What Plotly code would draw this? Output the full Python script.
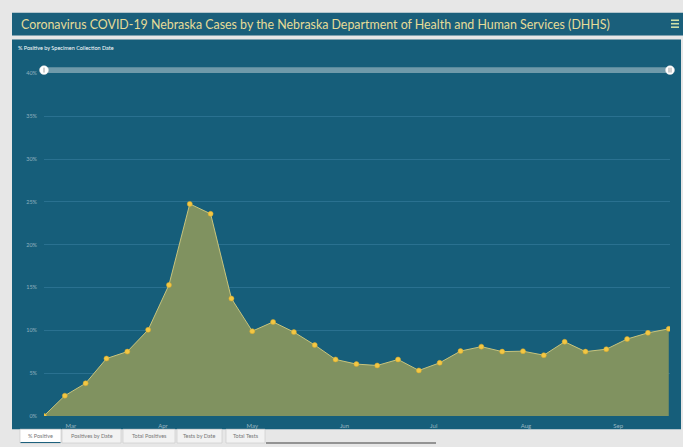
import plotly.graph_objects as go
import pandas as pd

# Data: weekly % positive by specimen collection date
start_date = "2020-02-21"
pct_positive = [0.0, 2.36, 3.81, 6.70, 7.51, 10.05, 15.30, 24.77, 23.61, 13.71,
                9.90, 10.98, 9.79, 8.28, 6.59, 6.05, 5.89, 6.59, 5.31, 6.20,
                7.57, 8.09, 7.51, 7.56, 7.09, 8.66, 7.51, 7.79, 8.98, 9.70, 10.17]
dates = pd.date_range(start_date, periods=len(pct_positive), freq="7D")

y_ticks = [0, 5, 10, 15, 20, 25, 30, 35, 40]
y_tick_labels = ["0%", "5%", "10%", "15%", "20%", "25%", "30%", "35%", "40%"]
month_ticks = ["2020-03-01", "2020-04-01", "2020-05-01", "2020-06-01",
               "2020-07-01", "2020-08-01", "2020-09-01"]
month_labels = ["Mar", "Apr", "May", "Jun", "Jul", "Aug", "Sep"]

title_text = "Coronavirus COVID-19 Nebraska Cases by the Nebraska Department of Health and Human Services (DHHS)"
subtitle_text = "% Positive by Specimen Collection Date"
tab_labels = ["% Positive", "Positives by Date", "Total Positives", "Tests by Date", "Total Tests"]

W, H = 683, 447
def px(x): return x / W
def py(y): return (H - y) / H

PANEL = "#165e7a"
HEADER = "#1a5f7b"

fig = go.Figure()
fig.add_trace(go.Scatter(
    x=dates, y=pct_positive, mode="lines+markers",
    fill="tozeroy", fillcolor="#809260",
    line=dict(color="#c8c47c", width=1),
    marker=dict(color="#f2c744", size=5, line=dict(color="#d9a92a", width=0.5)),
    hoverinfo="x+y", showlegend=False,
))

x_end = dates[-1] + pd.Timedelta(hours=10)
fig.update_layout(
    width=W, height=H,
    margin=dict(l=0, r=0, t=0, b=0),
    paper_bgcolor="#e7e7e7",
    plot_bgcolor=PANEL,
    font=dict(family="Lato, Open Sans, sans-serif"),
    xaxis=dict(
        domain=[px(44), px(670)],
        range=[dates[0], x_end],
        tickvals=month_ticks, ticktext=month_labels,
        showgrid=False, zeroline=False, showline=False,
        tickfont=dict(size=6, color="rgba(255,255,255,0.55)"),
        ticks="", ticklabelstandoff=5,
    ),
    yaxis=dict(
        domain=[py(418.5), py(71.5)],
        range=[0, 40],
        tickvals=y_ticks, ticktext=y_tick_labels,
        showgrid=True, gridcolor="#2a7190", gridwidth=1,
        zeroline=False, showline=False,
        tickfont=dict(size=5.5, color="rgba(255,255,255,0.5)"),
        ticks="", ticklabelstandoff=6,
    ),
)

shapes = []
# Header bar
shapes.append(dict(type="rect", xref="paper", yref="paper", x0=px(12), x1=1.0,
                   y0=py(33), y1=py(10), fillcolor=HEADER, line=dict(width=0), layer="below"))
# Main panel
shapes.append(dict(type="rect", xref="paper", yref="paper", x0=px(12), x1=px(681),
                   y0=py(432), y1=py(37), fillcolor=PANEL, line=dict(width=0), layer="below"))
# Hamburger icon
for yy in (17.5, 21, 24.5):
    shapes.append(dict(type="line", xref="paper", yref="paper", x0=px(671), x1=px(679),
                       y0=py(yy), y1=py(yy), line=dict(color="#cfe0a8", width=1.6)))
# Scrollbar
shapes.append(dict(type="rect", xref="paper", yref="paper", x0=px(44), x1=px(670),
                   y0=py(71), y1=py(65), fillcolor="#6f9aaa", line=dict(width=0)))
for cx in (44, 670):
    shapes.append(dict(type="circle", xref="paper", yref="paper", x0=px(cx - 4.5), x1=px(cx + 4.5),
                       y0=py(72.5), y1=py(63.5), fillcolor="#ffffff", line=dict(color="#dddddd", width=0.5)))
shapes.append(dict(type="line", xref="paper", yref="paper", x0=px(44), x1=px(44),
                   y0=py(70.5), y1=py(65.5), line=dict(color="#888888", width=0.8)))
for gx in (669, 671):
    shapes.append(dict(type="line", xref="paper", yref="paper", x0=px(gx), x1=px(gx),
                       y0=py(70.5), y1=py(65.5), line=dict(color="#888888", width=0.8)))
# Tabs
tab_x = [(20, 61), (62, 121), (123, 175), (177, 222), (226, 265)]
for i, (a, b) in enumerate(tab_x):
    shapes.append(dict(type="rect", xref="paper", yref="paper", x0=px(a), x1=px(b),
                       y0=py(446), y1=py(432),
                       fillcolor="#ffffff" if i == 0 else "#f2f2f2",
                       line=dict(color="#c8c8c8", width=0.6)))
shapes.append(dict(type="line", xref="paper", yref="paper", x0=px(20.5), x1=px(60.5),
                   y0=py(445.5), y1=py(445.5), line=dict(color="#1a5f7b", width=1)))
# horizontal scroll indicator
shapes.append(dict(type="line", xref="paper", yref="paper", x0=px(266), x1=px(436),
                   y0=py(446), y1=py(446), line=dict(color="#777777", width=1.5)))
fig.update_layout(shapes=shapes)

annotations = [
    dict(text=title_text, xref="paper", yref="paper", x=px(19), y=py(21.5),
         xanchor="left", yanchor="middle", showarrow=False,
         font=dict(size=12.4, color="#e6dc98", family="Lato, sans-serif")),
    dict(text=subtitle_text, xref="paper", yref="paper", x=px(16), y=py(46),
         xanchor="left", yanchor="middle", showarrow=False,
         font=dict(size=5.5, color="#ffffff", family="Lato, sans-serif")),
]
for (a, b), lab in zip(tab_x, tab_labels):
    annotations.append(dict(text=lab, xref="paper", yref="paper", x=px((a + b) / 2), y=py(439),
                            xanchor="center", yanchor="middle", showarrow=False,
                            font=dict(size=5.5, color="#777777", family="Lato, sans-serif")))
fig.update_layout(annotations=annotations)

fig.write_html("out.html", config={"displayModeBar": False},
               post_script="document.body.style.margin='0';")
